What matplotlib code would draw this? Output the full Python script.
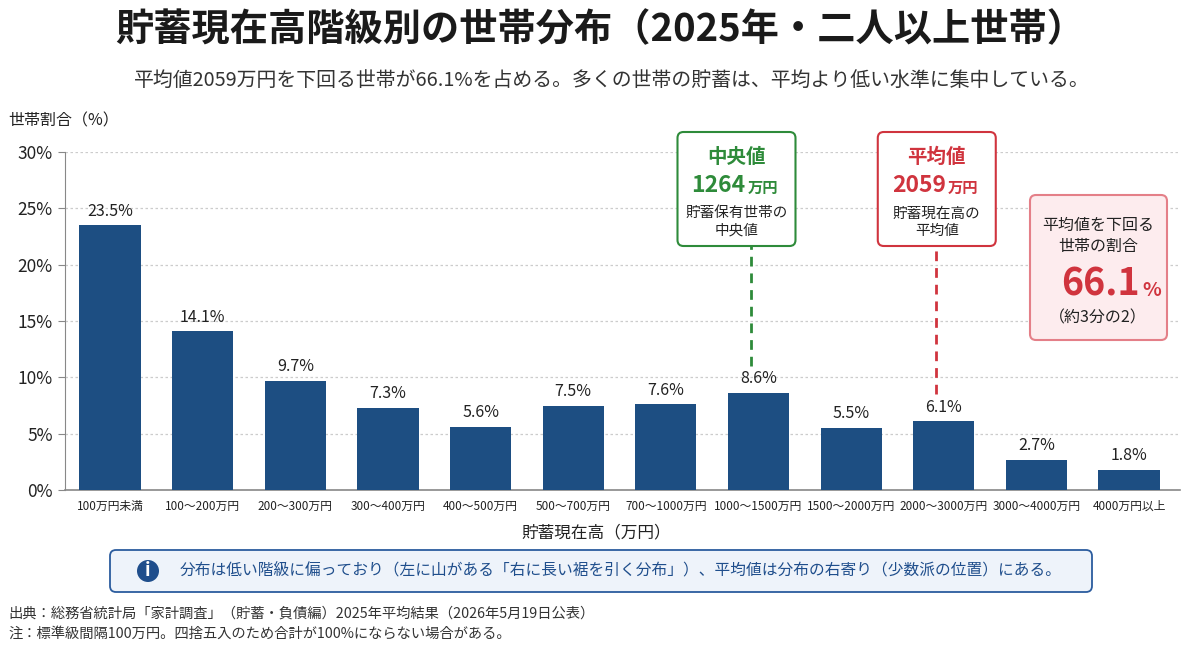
import numpy as np
import matplotlib.pyplot as plt
from matplotlib.patches import FancyBboxPatch, Circle
from matplotlib.transforms import Affine2D

plt.rcParams['font.family'] = ['Noto Sans CJK JP', 'DejaVu Sans']

# データ
categories = ['100万円未満', '100～200万円', '200～300万円', '300～400万円',
              '400～500万円', '500～700万円', '700～1000万円', '1000～1500万円',
              '1500～2000万円', '2000～3000万円', '3000～4000万円', '4000万円以上']
shares = [23.5, 14.1, 9.7, 7.3, 5.6, 7.5, 7.6, 8.6, 5.5, 6.1, 2.7, 1.8]
yticks = [0, 5, 10, 15, 20, 25, 30]
median_value = 1264
mean_value = 2059
median_idx = 7   # 1000～1500万円
mean_idx = 9     # 2000～3000万円
below_mean_share = 66.1

W, H = 1200, 658
BAR = '#1d4e82'
GREEN = '#2e8b3a'
RED = '#d0343e'
TXT = '#222222'

fig = plt.figure(figsize=(W / 100, H / 100), dpi=100)
fig.patch.set_facecolor('white')
# pixel coords, y going down
T = Affine2D().scale(1 / W, -1 / H).translate(0, 1) + fig.transFigure

ax = fig.add_axes([65 / W, 1 - 490 / H, (1180 - 65) / W, (490 - 152) / H])
x = np.arange(len(categories))
ax.bar(x, shares, width=0.66, color=BAR, zorder=3)
for xi, v in zip(x, shares):
    ax.text(xi, v + 0.5, f'{v}%', ha='center', va='bottom', fontsize=11.5, color=TXT)

ax.set_xlim(-0.486, 11.55)
ax.set_ylim(0, 30)
ax.set_yticks(yticks)
ax.set_yticklabels([f'{t}%' for t in yticks], fontsize=12.5, color=TXT)
ax.set_xticks(x)
ax.set_xticklabels(categories, fontsize=8.5, color=TXT)
ax.tick_params(axis='x', length=0, pad=7)
ax.tick_params(axis='y', length=5, color='#888888', pad=4)
ax.grid(axis='y', linestyle=(0, (2, 2)), color='#cccccc', linewidth=0.9, zorder=0)
for s in ['top', 'right']:
    ax.spines[s].set_visible(False)
ax.spines['left'].set_color('#888888')
ax.spines['bottom'].set_color('#888888')
ax.spines['bottom'].set_linewidth(1.2)

# titles
fig.text(600, 30, '貯蓄現在高階級別の世帯分布（2025年・二人以上世帯）', transform=T,
         ha='center', va='center', fontsize=27.5, fontweight='bold', color='#1a1a1a')
fig.text(612, 80, f'平均値{mean_value}万円を下回る世帯が{below_mean_share}%を占める。'
         '多くの世帯の貯蓄は、平均より低い水準に集中している。', transform=T,
         ha='center', va='center', fontsize=14.3, color='#333333')
fig.text(8, 121, '世帯割合（%）', transform=T, ha='left', va='center', fontsize=11.5, color=TXT)
fig.text(596, 533, '貯蓄現在高（万円）', transform=T, ha='center', va='center',
         fontsize=12, color=TXT)

def px_of(idx):
    return T.inverted().transform(ax.transData.transform((idx, 0)))[0]

box_top, box_bot = 132, 246
y_boxbot = ax.transData.inverted().transform(T.transform((0, box_bot)))[1]

def stat_box(idx, dx, color, title, value, sub):
    cx = px_of(idx) + dx
    w = 118
    fig.patches.append(FancyBboxPatch((cx - w / 2, box_top), w, box_bot - box_top,
                                      boxstyle='round,pad=0,rounding_size=6',
                                      transform=T, facecolor='white', edgecolor=color,
                                      linewidth=1.5, zorder=5))
    fig.text(cx, 157, title, transform=T, ha='center', va='center', fontsize=14,
             fontweight='bold', color=color, zorder=6)
    fig.text(cx + 9, 186, str(value), transform=T, ha='right', va='center', fontsize=16.5,
             fontweight='bold', color=color, zorder=6)
    fig.text(cx + 11, 188, '万円', transform=T, ha='left', va='center', fontsize=11,
             fontweight='bold', color=color, zorder=6)
    fig.text(cx, 222, sub, transform=T, ha='center', va='center', fontsize=10.5,
             color=TXT, linespacing=1.3, zorder=6)
    ax.plot([idx - 0.08, idx - 0.08], [shares[idx] + 2.4, y_boxbot], color=color,
            linestyle=(0, (3.5, 2.5)), linewidth=2, clip_on=False, zorder=4)

stat_box(median_idx, -22, GREEN, '中央値', median_value, '貯蓄保有世帯の\n中央値')
stat_box(mean_idx, -7, RED, '平均値', mean_value, '貯蓄現在高の\n平均値')

# right summary box
fig.patches.append(FancyBboxPatch((1030, 195), 137, 145,
                                  boxstyle='round,pad=0,rounding_size=6', transform=T,
                                  facecolor='#fdecee', edgecolor='#e47f88', linewidth=1.5))
fig.text(1098, 236, '平均値を下回る\n世帯の割合', transform=T, ha='center', va='center',
         fontsize=11.5, color=TXT, linespacing=1.35)
fig.text(1140, 284, f'{below_mean_share}', transform=T, ha='right', va='center',
         fontsize=27, fontweight='bold', color=RED)
fig.text(1142, 290, '%', transform=T, ha='left', va='center', fontsize=14,
         fontweight='bold', color=RED)
fig.text(1098, 318, '（約3分の2）', transform=T, ha='center', va='center',
         fontsize=11.5, color=TXT)

# info box
fig.patches.append(FancyBboxPatch((110, 550), 982, 42,
                                  boxstyle='round,pad=0,rounding_size=6', transform=T,
                                  facecolor='#eef3fa', edgecolor='#2b5c9e', linewidth=1.3))
fig.patches.append(Circle((148, 571), 11, transform=T, facecolor='#1f4e8c', edgecolor='none'))
fig.text(148, 571, 'i', transform=T, ha='center', va='center', fontsize=13,
         fontweight='bold', color='white')
fig.text(180, 571, '分布は低い階級に偏っており（左に山がある「右に長い裾を引く分布」）、'
         '平均値は分布の右寄り（少数派の位置）にある。', transform=T, ha='left', va='center',
         fontsize=11.3, color='#1f4e8c')

# source
fig.text(8, 614, '出典：総務省統計局「家計調査」（貯蓄・負債編）2025年平均結果（2026年5月19日公表）',
         transform=T, ha='left', va='center', fontsize=10.3, color='#333333')
fig.text(8, 634, '注：標準級間隔100万円。四捨五入のため合計が100%にならない場合がある。',
         transform=T, ha='left', va='center', fontsize=10.3, color='#333333')

fig.savefig('out.png', dpi=100)
